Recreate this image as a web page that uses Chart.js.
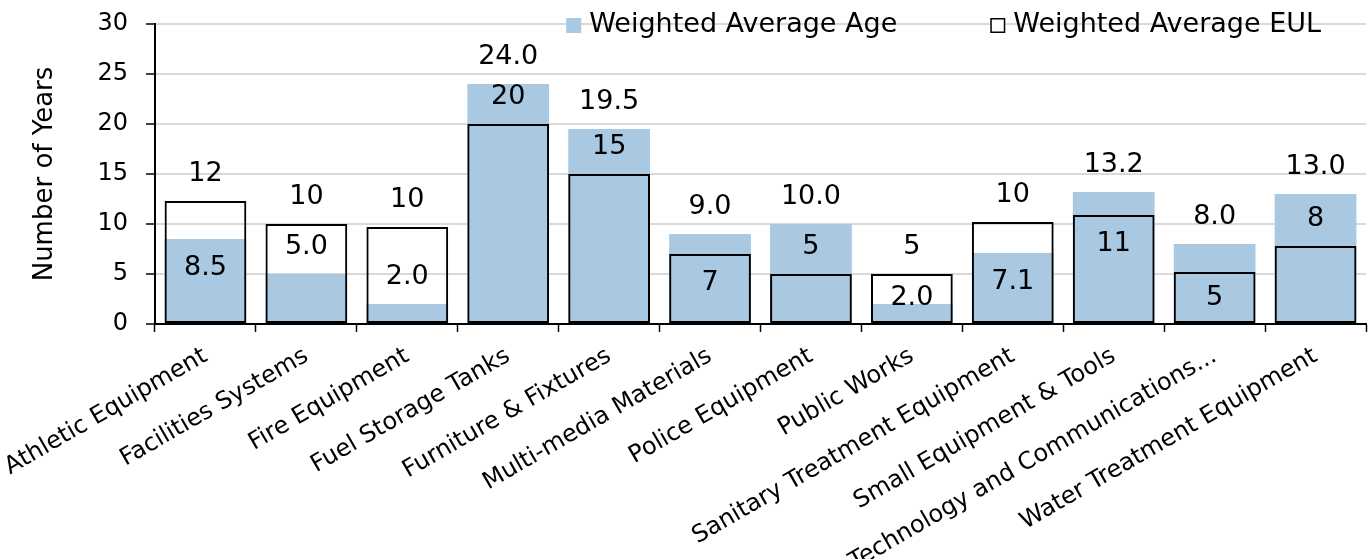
<!DOCTYPE html>
<html>
<head>
<meta charset="utf-8">
<script src="https://cdn.jsdelivr.net/npm/chart.js@4"></script>
<style>
  body { margin: 0; background: #fff; }
  #wrap { width: 1372px; height: 559px; }
</style>
</head>
<body>
<div id="wrap"><canvas id="chart" width="1372" height="559"></canvas></div>
<script>
var categories = [
  'Athletic Equipment', 'Facilities Systems', 'Fire Equipment', 'Fuel Storage Tanks',
  'Furniture & Fixtures', 'Multi-media Materials', 'Police Equipment', 'Public Works',
  'Sanitary Treatment Equipment', 'Small Equipment & Tools',
  'Technology and Communications...', 'Water Treatment Equipment'
];
var ageValues = [8.5, 5.0, 2.0, 24.0, 19.5, 9.0, 10.0, 2.0, 7.1, 13.2, 8.0, 13.0];
var eulValues = [12.3, 10.0, 9.7, 20.0, 15.0, 7.0, 5.0, 5.0, 10.2, 10.9, 5.2, 7.8];
var yTicks = [0, 5, 10, 15, 20, 25, 30];

var FONT = 'DejaVu Sans';
var BLUE = '#a9c8e2';

// value labels: taller bar labelled above, the shorter one above or inside depending on room
var barLabels = {
  id: 'barLabels',
  afterDatasetsDraw: function (chart) {
    var ctx = chart.ctx;
    var age = chart.getDatasetMeta(0).data;
    var eul = chart.getDatasetMeta(1).data;
    var base = chart.scales.y.getPixelForValue(0);
    ctx.save();
    ctx.font = '27px "' + FONT + '"';
    ctx.fillStyle = '#000';
    ctx.textAlign = 'center';
    ctx.textBaseline = 'middle';
    categories.forEach(function (c, i) {
      var a = { bar: age[i], text: ageValues[i].toFixed(1) };
      var e = { bar: eul[i], text: eulValues[i].toFixed(0) };
      var hi = a.bar.y <= e.bar.y ? a : e;
      var lo = hi === a ? e : a;
      ctx.fillText(hi.text, hi.bar.x, hi.bar.y - 27);
      var gap = lo.bar.y - hi.bar.y;
      var y = gap >= 39 ? lo.bar.y - 27 : Math.min(lo.bar.y + 29, base - 26);
      ctx.fillText(lo.text, lo.bar.x, y);
    });
    ctx.restore();
  }
};

var topLegend = {
  id: 'topLegend',
  afterDraw: function (chart) {
    var ctx = chart.ctx;
    var area = chart.chartArea;
    var sets = chart.data.datasets;
    ctx.save();
    ctx.font = '27px "' + FONT + '"';
    ctx.textBaseline = 'middle';
    ctx.textAlign = 'left';
    var y = area.top + 1;
    var x = area.right - 45;
    for (var i = sets.length - 1; i >= 0; i--) {
      var w = ctx.measureText(sets[i].label).width;
      x -= w;
      ctx.fillStyle = '#000';
      ctx.fillText(sets[i].label, x, y);
      x -= 23;
      if (i === 0) {
        ctx.fillStyle = BLUE;
        ctx.fillRect(x, y - 7, 15, 15);
      } else {
        ctx.fillStyle = '#fff';
        ctx.fillRect(x, y - 7, 15, 15);
        ctx.strokeStyle = '#000';
        ctx.lineWidth = 1.5;
        ctx.strokeRect(x + 0.75, y - 6.25, 13.5, 13.5);
      }
      x -= 93;
    }
    ctx.restore();
  }
};

new Chart(document.getElementById('chart').getContext('2d'), {
  type: 'bar',
  data: {
    labels: categories,
    datasets: [{
      label: 'Weighted Average Age',
      data: ageValues,
      backgroundColor: BLUE,
      borderWidth: 0,
      grouped: false,
      order: 1
    }, {
      label: 'Weighted Average EUL',
      data: eulValues,
      backgroundColor: 'rgba(0,0,0,0)',
      borderColor: '#000',
      borderWidth: 2,
      borderSkipped: false,
      grouped: false,
      order: 0
    }]
  },
  options: {
    responsive: false,
    animation: false,
    categoryPercentage: 0.81,
    barPercentage: 1,
    layout: { padding: { top: 24, right: 6, left: 0, bottom: 0 } },
    plugins: {
      legend: { display: false },
      tooltip: { enabled: false }
    },
    scales: {
      x: {
        grid: { offset: true, drawOnChartArea: false, tickLength: 8, tickColor: '#000', tickWidth: 1.5 },
        border: { color: '#000', width: 2 },
        ticks: {
          color: '#000',
          font: { family: FONT, size: 24 },
          minRotation: 30,
          maxRotation: 30,
          autoSkip: false,
          padding: 10
        },
        afterFit: function (scale) {
          scale.height = 235;
          scale.paddingLeft = 0;
          scale.paddingRight = 0;
        }
      },
      y: {
        min: 0,
        max: 30,
        afterBuildTicks: function (scale) {
          scale.ticks = yTicks.map(function (v) { return { value: v }; });
        },
        grid: { color: '#d9d9d9', lineWidth: 2, tickLength: 9, tickColor: '#000', tickWidth: 1.5 },
        border: { color: '#000', width: 2 },
        ticks: {
          color: '#000',
          font: { family: FONT, size: 24 },
          padding: 18
        },
        title: {
          display: true,
          text: 'Number of Years',
          color: '#000',
          font: { family: FONT, size: 26 },
          padding: { top: 30, bottom: 0 }
        },
        afterFit: function (scale) {
          scale.width = 155;
          scale.paddingTop = 0;
          scale.paddingBottom = 0;
        }
      }
    }
  },
  plugins: [barLabels, topLegend]
});
</script>
</body>
</html>
